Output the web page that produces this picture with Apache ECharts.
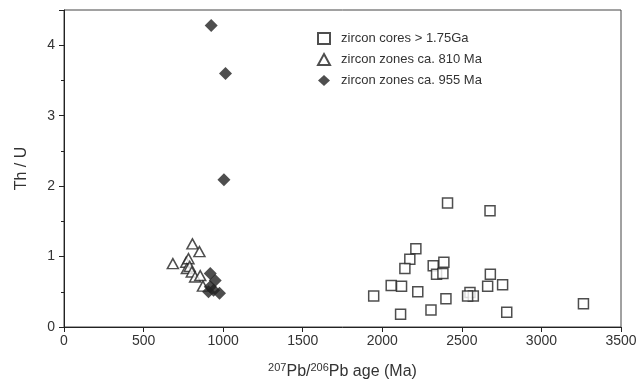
<!DOCTYPE html>
<html>
<head>
<meta charset="utf-8">
<script src="https://cdn.jsdelivr.net/npm/echarts@6/dist/echarts.min.js"></script>
<style>
  html, body { margin: 0; padding: 0; background: #fff; }
  #figure { width: 640px; height: 390px; }
</style>
</head>
<body>
<div id="figure"></div>
<script>
// zircon cores > 1.75Ga : [age, Th/U]
var cores = [
    [2410, 1.76], [2677, 1.65], [2211, 1.11], [2173, 0.96], [2142, 0.83],
    [2320, 0.87], [2387, 0.92], [2341, 0.75], [2381, 0.76], [2056, 0.59],
    [2121, 0.58], [1946, 0.44], [2223, 0.50], [2115, 0.18], [2306, 0.24],
    [2400, 0.40], [2551, 0.49], [2572, 0.44], [2536, 0.44], [2679, 0.75],
    [2662, 0.58], [2756, 0.60], [2782, 0.21], [3264, 0.33]
];
// zircon zones ca. 810 Ma
var zones810 = [
    [807, 1.18], [851, 1.07], [684, 0.90], [768, 0.92], [782, 0.97],
    [772, 0.83], [790, 0.86], [803, 0.78], [824, 0.71], [856, 0.73],
    [873, 0.58]
];
// zircon zones ca. 955 Ma
var zones955 = [
    [925, 4.28], [1015, 3.60], [1005, 2.09], [919, 0.76], [950, 0.66],
    [919, 0.57], [940, 0.52], [977, 0.48], [908, 0.50]
];
var seriesNames = ['zircon cores > 1.75Ga', 'zircon zones ca. 810 Ma', 'zircon zones ca. 955 Ma'];
var xTicks = [0, 500, 1000, 1500, 2000, 2500, 3000, 3500];
var yTicks = [0, 1, 2, 3, 4];

var figure = echarts.init(document.getElementById('figure'));
var font = 'Liberation Sans, Arial, sans-serif';
var ink = '#222';
var option = {
    animation: false,
    backgroundColor: '#fff',
    textStyle: { fontFamily: font },
    grid: {
        show: true,
        left: 64,
        right: 19,
        top: 10,
        bottom: 63,
        backgroundColor: 'transparent',
        borderColor: '#444',
        borderWidth: 1
    },
    legend: {
        orient: 'vertical',
        left: 312,
        top: 27,
        itemWidth: 12,
        itemHeight: 11,
        itemGap: 8,
        textStyle: { fontSize: 13, color: '#333', fontFamily: font, padding: [0, 0, 0, 6] },
        data: seriesNames
    },
    xAxis: {
        type: 'value',
        min: xTicks[0],
        max: xTicks[xTicks.length - 1],
        interval: 500,
        name: '{sup|207}Pb/{sup|206}Pb age (Ma)',
        nameLocation: 'middle',
        nameGap: 35,
        nameTextStyle: {
            fontSize: 16,
            color: '#333',
            rich: {
                sup: { fontSize: 11, verticalAlign: 'top', padding: [0, 0, 9, 0], color: '#333' }
            }
        },
        axisLine: { onZero: false, lineStyle: { color: ink, width: 1 } },
        axisTick: { show: true, inside: false, length: 5, lineStyle: { color: ink } },
        axisLabel: {
            fontSize: 14,
            color: '#333',
            margin: 7,
            formatter: function (v) { return String(v); }
        },
        splitLine: { show: false }
    },
    yAxis: {
        type: 'value',
        min: yTicks[0],
        max: 4.5,
        interval: 1,
        name: 'Th / U',
        nameLocation: 'middle',
        nameGap: 34,
        nameTextStyle: { fontSize: 16, color: '#333' },
        axisLine: { show: true, onZero: false, lineStyle: { color: ink, width: 1 } },
        axisTick: { show: true, inside: false, length: 5, lineStyle: { color: ink } },
        minorTick: { show: true, splitNumber: 2, length: 3, lineStyle: { color: ink } },
        axisLabel: {
            fontSize: 14,
            color: '#333',
            margin: 9,
            formatter: function (v) { return yTicks.indexOf(v) >= 0 ? String(v) : ''; }
        },
        splitLine: { show: false }
    },
    series: [{
        name: seriesNames[0],
        type: 'scatter',
        symbol: 'rect',
        symbolSize: 10,
        itemStyle: { color: '#fff', borderColor: ink, borderWidth: 1.5 },
        data: cores
    }, {
        name: seriesNames[1],
        type: 'scatter',
        symbol: 'triangle',
        symbolSize: [11, 10],
        itemStyle: { color: '#fff', borderColor: ink, borderWidth: 1.5 },
        data: zones810
    }, {
        name: seriesNames[2],
        type: 'scatter',
        symbol: 'diamond',
        symbolSize: 13,
        itemStyle: { color: ink, borderColor: ink, borderWidth: 0 },
        data: zones955
    }]
};

figure.setOption(option);
</script>
</body>
</html>
